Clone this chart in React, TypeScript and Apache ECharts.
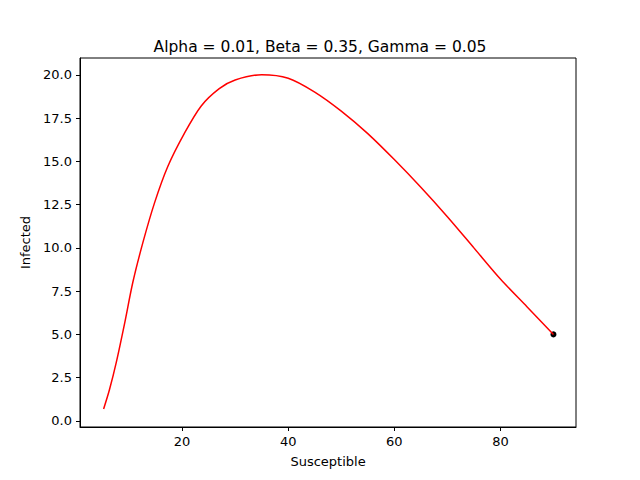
import React, { useEffect, useRef } from 'react';
import * as echarts from 'echarts';

// trajectory (susceptible, infected), from start point
const susceptible = [90, 85, 80, 75, 70, 65, 60, 55, 50, 45, 40, 35, 30, 27, 23.6, 20.4, 17.3, 14.8, 12.6, 10.7, 9.2, 7.6, 6.3, 5.2];
const infected = [5.0, 6.6, 8.2, 10.0, 11.8, 13.5, 15.1, 16.6, 17.9, 19.0, 19.8, 20.0, 19.7, 19.2, 18.2, 16.6, 14.7, 12.6, 10.3, 8.0, 5.7, 3.4, 1.8, 0.69];
const startPoint = [90, 5];
const xTicks = [20, 40, 60, 80];
const yTicks = [0, 2.5, 5, 7.5, 10, 12.5, 15, 17.5, 20];

const font = 'DejaVu Sans';

export default function App() {
  const ref = useRef<HTMLDivElement>(null);

  useEffect(() => {
    const chart = echarts.init(ref.current, null, { renderer: 'svg' });
    const axisCommon = {
      axisLine: { show: true, onZero: false, lineStyle: { color: '#000' } },
      axisTick: { show: true, inside: false, length: 4, lineStyle: { color: '#000' } },
      splitLine: { show: false },
      nameTextStyle: { color: '#000', fontSize: 13, fontFamily: font },
    };
    chart.setOption({
      animation: false,
      title: {
        text: 'Alpha = 0.01, Beta = 0.35, Gamma = 0.05',
        left: 'center',
        top: 34,
        textStyle: { fontSize: 15.5, fontWeight: 'normal', color: '#000', fontFamily: font },
      },
      grid: { left: 80, right: 64, top: 58, bottom: 53, show: true, borderColor: '#000', borderWidth: 1 },
      xAxis: {
        ...axisCommon,
        type: 'value',
        min: 0.75,
        max: 94.25,
        name: 'Susceptible',
        nameLocation: 'middle',
        nameGap: 28,
        axisTick: { ...axisCommon.axisTick, customValues: xTicks },
        axisLabel: { customValues: xTicks, color: '#000', fontSize: 13, fontFamily: font },
      },
      yAxis: {
        ...axisCommon,
        type: 'value',
        min: -0.35,
        max: 20.97,
        name: 'Infected',
        nameLocation: 'middle',
        nameGap: 46,
        axisTick: { ...axisCommon.axisTick, customValues: yTicks },
        axisLabel: {
          customValues: yTicks,
          color: '#000',
          fontSize: 13,
          fontFamily: font,
          formatter: (v: number) => v.toFixed(1),
        },
      },
      series: [
        {
          type: 'line',
          data: susceptible.map((s, i) => [s, infected[i]]),
          smooth: 0.3,
          showSymbol: false,
          lineStyle: { color: '#ff0000', width: 1.5 },
        },
        {
          type: 'scatter',
          data: [startPoint],
          symbolSize: 6,
          itemStyle: { color: '#000', opacity: 1 },
        },
      ],
    });
    return () => chart.dispose();
  }, []);

  return <div ref={ref} style={{ position: 'fixed', left: 0, top: 0, width: 640, height: 480, background: '#fff' }} />;
}
